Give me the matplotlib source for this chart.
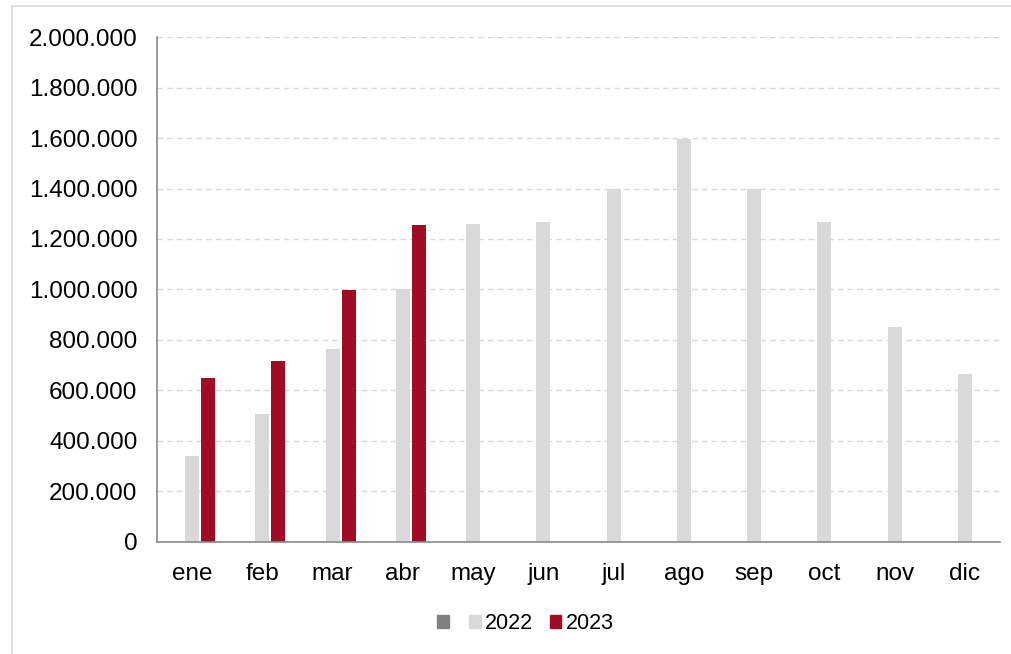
import matplotlib
matplotlib.use('Agg')
import numpy as np
import matplotlib.pyplot as plt
from matplotlib.patches import Patch, Rectangle
from matplotlib.ticker import FuncFormatter

plt.rcParams['font.family'] = ['Liberation Sans', 'DejaVu Sans']

meses = ['ene', 'feb', 'mar', 'abr', 'may', 'jun', 'jul', 'ago', 'sep', 'oct', 'nov', 'dic']
v2022 = [340000, 507000, 764000, 1000000, 1258000, 1269000, 1400000, 1598000,
         1400000, 1268000, 851000, 667000]
v2023 = [650000, 717000, 998000, 1256000]

c_gris = '#808080'
c_2022 = '#D9D9D9'
c_2023 = '#A00C24'

fig = plt.figure(figsize=(10.12, 6.54), dpi=100)
ax = fig.add_axes([0.1551, 0.1713, 0.833, 0.7721])

# marco exterior
fig.patches.append(Rectangle((12/1012, -0.05), 1.1, 1 - 6/654 + 0.05,
                             transform=fig.transFigure, fill=False,
                             edgecolor='#D9D9D9', linewidth=1.2, zorder=0))

x = np.arange(len(meses))
w = 0.2
off = 0.228
ax.bar(x, v2022, width=w, color=c_2022, zorder=3)
ax.bar(x[:len(v2023)] + off, v2023, width=w, color=c_2023, zorder=3)

ax.set_xlim(-0.5, len(meses) - 0.5)
ax.set_ylim(0, 2000000)
ax.set_yticks(np.arange(0, 2000001, 200000))
ax.yaxis.set_major_formatter(FuncFormatter(lambda v, p: f'{int(v):,}'.replace(',', '.')))
ax.set_xticks(x)
ax.set_xticklabels(meses)

ax.grid(axis='y', color='#D9D9D9', linestyle=(0, (4, 3)), linewidth=1, zorder=0)
ax.tick_params(axis='y', length=0, pad=14, labelsize=17.5)
ax.tick_params(axis='x', length=0, pad=15, labelsize=17.5)

for s in ['top', 'right']:
    ax.spines[s].set_visible(False)
for s in ['left', 'bottom']:
    ax.spines[s].set_color('#898989')
    ax.spines[s].set_linewidth(1.2)
ax.spines['bottom'].set_zorder(4)

handles = [Patch(color=c_gris), Patch(color=c_2022), Patch(color=c_2023)]
fig.legend(handles, ['', '2022', '2023'], loc='center', ncol=3,
           bbox_to_anchor=(0.519, 0.046), frameon=False, fontsize=15.5,
           handlelength=0.55, handleheight=0.55, handletextpad=0.2,
           columnspacing=0.75)

fig.savefig('out.png', dpi=100)
